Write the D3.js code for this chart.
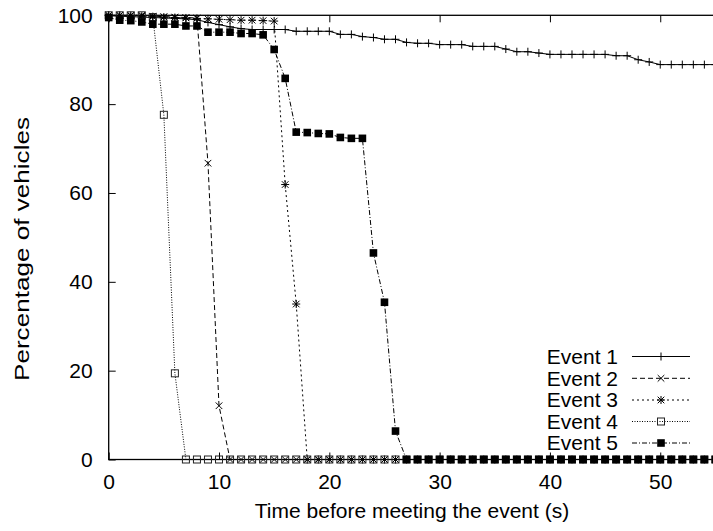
<!DOCTYPE html>
<html>
<head>
<meta charset="utf-8">
<script src="https://cdn.jsdelivr.net/npm/d3@7"></script>
<style>
  body { margin: 0; background: #fff; }
  svg { display: block; font-family: "Liberation Sans", Arial, sans-serif; }
</style>
</head>
<body>
<div id="chart"></div>
<script>
// seconds, one sample per second
var times = d3.range(0, 56);

var event1 = [100, 99.8, 99.7, 99.6, 99.5, 99.4, 99.3, 99.2, 99.0, 98.4,
  97.9, 97.4, 97.0, 96.8, 96.8, 96.8, 96.8, 96.4, 96.4, 96.4,
  96.4, 95.7, 95.7, 95.2, 95.0, 94.6, 94.6, 93.9, 93.7, 93.7,
  93.4, 93.4, 93.4, 93.0, 93.0, 93.0, 92.4, 91.8, 91.8, 91.5,
  91.2, 91.2, 91.2, 91.2, 91.2, 91.2, 90.9, 90.9, 90.0, 89.5,
  88.9, 88.9, 88.9, 88.9, 88.9, 88.9];
var event2 = [100, 100, 100, 100, 99.8, 99.7, 99.6, 99.5, 99.4, 66.7, 12.1];
var event3 = [100, 100, 99.9, 99.8, 99.7, 99.6, 99.5, 99.4, 99.3, 99.2,
  99.1, 99.0, 98.9, 98.9, 98.8, 98.7, 61.9, 35.0];
var event4 = [100, 100, 100, 100, 99.6, 77.6, 19.4];
var event5 = [99.5, 98.9, 98.8, 98.5, 98.0, 98.0, 98.0, 97.6, 97.6, 96.2,
  96.2, 96.2, 95.9, 95.9, 95.6, 92.3, 85.8, 73.7, 73.6, 73.4,
  73.3, 72.5, 72.3, 72.3, 46.5, 35.4, 6.4];

var seriesNames = ["Event 1", "Event 2", "Event 3", "Event 4", "Event 5"];
var xTicks = [0, 10, 20, 30, 40, 50];
var yTicks = [0, 20, 40, 60, 80, 100];

// pad each series with zeros up to the end of the time range
function pad(vals) {
  return times.map(function(t, i) { return { t: t, v: i < vals.length ? vals[i] : 0 }; });
}

var series = [
  { name: seriesNames[0], data: pad(event1), dash: null, mark: "plus" },
  { name: seriesNames[1], data: pad(event2), dash: "5,3", mark: "cross" },
  { name: seriesNames[2], data: pad(event3), dash: "2,3", mark: "star" },
  { name: seriesNames[3], data: pad(event4), dash: "1,1.5", mark: "box" },
  { name: seriesNames[4], data: pad(event5), dash: "5,2,1,2", mark: "fbox" }
];

var width = 713, height = 531;
var x0 = 108.7, x1 = 715.4, yTop = 15.3, yBot = 459.5;
var fs = "21px";

var x = d3.scaleLinear().domain([0, 55]).range([x0, x1]);
var y = d3.scaleLinear().domain([0, 100]).range([yBot, yTop]);

var svg = d3.select("#chart").append("svg")
  .attr("width", width)
  .attr("height", height);

// axes, ticks pointing inward
var gx = svg.append("g")
  .attr("transform", "translate(0," + yBot + ")")
  .call(d3.axisBottom(x).tickValues(xTicks).tickSize(-7).tickPadding(14.5));
var gxt = svg.append("g")
  .attr("transform", "translate(0," + yTop + ")")
  .call(d3.axisTop(x).tickValues(xTicks).tickSize(-7).tickFormat(""));
var gy = svg.append("g")
  .attr("transform", "translate(" + x0 + ",0)")
  .call(d3.axisLeft(y).tickValues(yTicks).tickSize(-7).tickPadding(16));

[gx, gxt, gy].forEach(function(g) {
  g.select(".domain").remove();
  g.selectAll("line").attr("stroke", "#000").attr("stroke-width", 1);
  g.selectAll("text").attr("fill", "#000").style("font-size", fs)
    .style("font-family", "'Liberation Sans', Arial, sans-serif");
});

svg.append("rect")
  .attr("x", x0).attr("y", yTop)
  .attr("width", x1 - x0).attr("height", yBot - yTop)
  .attr("fill", "none").attr("stroke", "#000").attr("stroke-width", 1.3);

svg.append("text")
  .attr("x", 412)
  .attr("y", 518)
  .attr("text-anchor", "middle")
  .style("font-size", fs)
  .text("Time before meeting the event (s)");

svg.append("text")
  .attr("transform", "translate(29,249)rotate(-90)")
  .attr("text-anchor", "middle")
  .attr("textLength", 264)
  .attr("lengthAdjust", "spacingAndGlyphs")
  .style("font-size", fs)
  .text("Percentage of vehicles");

function drawMark(g, type, cx, cy) {
  var s = 4;
  if (type === "plus" || type === "star") {
    g.append("path").attr("d", "M" + (cx - s) + "," + cy + "H" + (cx + s) + "M" + cx + "," + (cy - s) + "V" + (cy + s))
      .attr("stroke", "#000").attr("stroke-width", 1);
  }
  if (type === "cross" || type === "star") {
    var c = 3.3;
    g.append("path").attr("d", "M" + (cx - c) + "," + (cy - c) + "L" + (cx + c) + "," + (cy + c) +
        "M" + (cx - c) + "," + (cy + c) + "L" + (cx + c) + "," + (cy - c))
      .attr("stroke", "#000").attr("stroke-width", 1);
  }
  if (type === "box") {
    g.append("rect").attr("x", cx - 3.5).attr("y", cy - 3.5).attr("width", 7).attr("height", 7)
      .attr("fill", "none").attr("stroke", "#222").attr("stroke-width", 1);
  }
  if (type === "fbox") {
    g.append("rect").attr("x", cx - 3.8).attr("y", cy - 3.8).attr("width", 7.6).attr("height", 7.6)
      .attr("fill", "#000");
  }
}

var line = d3.line()
  .x(function(d) { return x(d.t); })
  .y(function(d) { return y(d.v); });

series.forEach(function(s) {
  var g = svg.append("g");
  g.append("path")
    .datum(s.data)
    .attr("d", line)
    .attr("fill", "none")
    .attr("stroke", "#000")
    .attr("stroke-width", 1)
    .attr("stroke-dasharray", s.dash);
  s.data.forEach(function(d) { drawMark(g, s.mark, x(d.t), y(d.v)); });
});

// legend
var legend = svg.append("g");
var legendY = [356.5, 378.3, 400, 421.5, 443];
series.forEach(function(s, i) {
  var ly = legendY[i];
  legend.append("text")
    .attr("x", 618).attr("y", ly).attr("dy", "0.35em")
    .attr("text-anchor", "end")
    .style("font-size", fs)
    .text(s.name);
  legend.append("line")
    .attr("x1", 632).attr("x2", 690).attr("y1", ly).attr("y2", ly)
    .attr("stroke", "#000").attr("stroke-width", 1)
    .attr("stroke-dasharray", s.dash);
  drawMark(legend, s.mark, 661, ly);
});
</script>
</body>
</html>
